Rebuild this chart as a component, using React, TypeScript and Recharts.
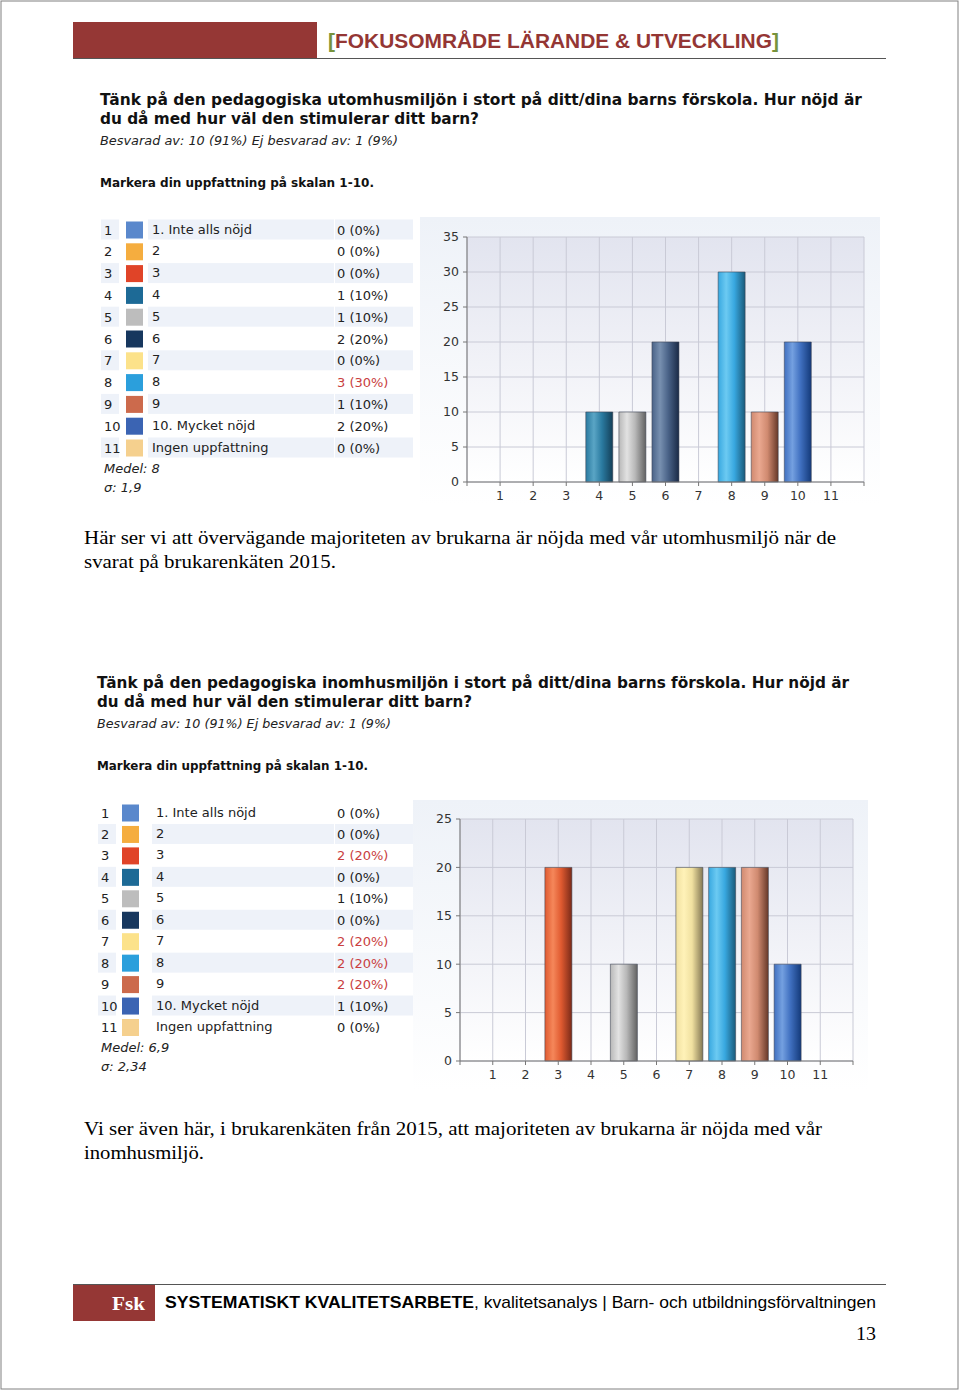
import React from 'react';
import { BarChart, Bar, XAxis, YAxis, CartesianGrid, Cell } from 'recharts';

// survey scale 1..11
const scalePoints = [1, 2, 3, 4, 5, 6, 7, 8, 9, 10, 11];
const scaleLabels = ['1. Inte alls nöjd', '2', '3', '4', '5', '6', '7', '8', '9', '10. Mycket nöjd', 'Ingen uppfattning'];

// utomhusmiljö
const outdoorCounts = [0, 0, 0, 1, 1, 2, 0, 3, 1, 2, 0];
const outdoorPercent = [0, 0, 0, 10, 10, 20, 0, 30, 10, 20, 0];
const outdoorYTicks = [0, 5, 10, 15, 20, 25, 30, 35];
const outdoorStats = ['Medel: 8', 'σ:  1,9'];

// inomhusmiljö
const indoorCounts = [0, 0, 2, 0, 1, 0, 2, 2, 2, 1, 0];
const indoorPercent = [0, 0, 20, 0, 10, 0, 20, 20, 20, 10, 0];
const indoorYTicks = [0, 5, 10, 15, 20, 25];
const indoorStats = ['Medel: 6,9', 'σ:  2,34'];

const xAxisTicks = [0, 1, 2, 3, 4, 5, 6, 7, 8, 9, 10, 11, 12];

const swatchColors = ['#5a88cc', '#f5ad3f', '#e04428', '#1d6a96', '#bdbdbd', '#17375e', '#fce28a', '#2b9fdc', '#cc6a4c', '#3b64b3', '#f5d08e'];
// base, highlight, dark edge for the cylinder look
const barShades = [
  ['#4f7fc8', '#80a8e0', '#203f78'],
  ['#f0a030', '#ffc870', '#805010'],
  ['#e05a30', '#f5875a', '#7a2a18'],
  ['#2a7aa0', '#5aa5c5', '#143f58'],
  ['#b8b8b8', '#e2e2e2', '#626262'],
  ['#4a6388', '#7890b0', '#1a2a46'],
  ['#f0e0a0', '#fff2b8', '#847854'],
  ['#38a8e0', '#6ccaf2', '#1a5a7a'],
  ['#d08a70', '#eaa890', '#663828'],
  ['#4070c0', '#74a0e0', '#143a7a'],
  ['#f0d090', '#fde8b8', '#8a7040'],
];

const SANS = '"DejaVu Sans", Verdana, sans-serif';
const ARIAL = '"Liberation Sans", Arial, sans-serif';
const SERIF = '"Liberation Serif", "Times New Roman", serif';

type ChartProps = {
  percent: number[];
  yTicks: number[];
  width: number;
  height: number;
  top: number;
  right: number;
  plotHeight: number;
  id: string;
};

const SurveyChart = ({ percent, yTicks, width, height, top, right, plotHeight, id }: ChartProps) => {
  const data = scalePoints.map((x, i) => ({ x, pct: percent[i] }));
  const tickStyle = { fontSize: 12.5, fill: '#333', fontFamily: SANS };
  return (
    <BarChart width={width} height={height} data={data} margin={{ top, right, bottom: 0, left: 0 }}>
      <defs>
        <linearGradient id={`${id}-bg`} x1="0" y1="0" x2="0" y2="1">
          <stop offset="0%" stopColor="#e2e4ef" />
          <stop offset="100%" stopColor="#ffffff" />
        </linearGradient>
        {barShades.map((s, i) => (
          <linearGradient key={i} id={`${id}-g${i}`} x1="0" y1="0" x2="1" y2="0">
            <stop offset="0%" stopColor={s[0]} />
            <stop offset="30%" stopColor={s[1]} />
            <stop offset="60%" stopColor={s[0]} />
            <stop offset="100%" stopColor={s[2]} />
          </linearGradient>
        ))}
      </defs>
      <CartesianGrid stroke="#c9cad6" fill={`url(#${id}-bg)`} />
      <XAxis
        type="number"
        dataKey="x"
        domain={[0, 12]}
        ticks={xAxisTicks}
        interval={0}
        tickFormatter={(v: number) => (scalePoints.includes(v) ? String(v) : '')}
        height={height - top - plotHeight}
        tick={tickStyle}
        tickSize={4}
        tickMargin={5}
        stroke="#777"
      />
      <YAxis
        type="number"
        domain={[0, yTicks[yTicks.length - 1]]}
        ticks={yTicks}
        interval={0}
        width={47}
        tick={tickStyle}
        tickSize={4}
        tickMargin={4}
        stroke="#777"
      />
      <Bar dataKey="pct" barSize={27} stroke="#3a4250" strokeOpacity={0.55} isAnimationActive={false}>
        {data.map((_, i) => (
          <Cell key={i} fill={`url(#${id}-g${i})`} />
        ))}
      </Bar>
    </BarChart>
  );
};

type TableProps = {
  counts: number[];
  percent: number[];
  stats: string[];
  top: number; // center of first row
  pitch: number;
  numX: number;
  swX: number;
  labelX: number;
  valueX: number;
  shadeOdd: boolean;
};

const SurveyTable = ({ counts, percent, stats, top, pitch, numX, swX, labelX, valueX, shadeOdd }: TableProps) => {
  const max = Math.max(...counts);
  const last = top + 10 * pitch;
  return (
    <g fontFamily={SANS} fontSize={13} fill="#222">
      {scaleLabels.map((label, i) => {
        const cy = top + i * pitch;
        const shaded = shadeOdd ? i % 2 === 0 : i % 2 === 1;
        return (
          <g key={i}>
            {shaded && (
              <g fill="#eef2f9">
                <rect x={numX - 3} y={cy - 10} width={18} height={20} />
                <rect x={labelX - 4} y={cy - 10} width={valueX - labelX + 1} height={20} />
                <rect x={valueX - 2} y={cy - 10} width={78} height={20} />
              </g>
            )}
            <text x={numX} y={cy + 5}>{scalePoints[i]}</text>
            <rect x={swX} y={cy - 8} width={17} height={17} fill={swatchColors[i]} />
            <text x={labelX} y={cy + 4}>{label}</text>
            <text x={valueX} y={cy + 5} fill={counts[i] === max ? '#c94040' : '#222'}>
              {`${counts[i]} (${percent[i]}%)`}
            </text>
          </g>
        );
      })}
      <text x={numX} y={last + 25} fontStyle="italic">{stats[0]}</text>
      <text x={numX} y={last + 44} fontStyle="italic">{stats[1]}</text>
    </g>
  );
};

const Fit = ({ x, y, w, size, children, ...rest }: any) => (
  <text x={x} y={y} fontSize={size} textLength={w} lengthAdjust="spacingAndGlyphs" {...rest}>
    {children}
  </text>
);

export default function App() {
  return (
    <div style={{ position: 'absolute', left: 0, top: 0, width: 960, height: 1393, background: '#fff' }}>
      <svg width={960} height={1393} style={{ position: 'absolute', left: 0, top: 0 }}>
        <rect x={1} y={1} width={957} height={1388} fill="none" stroke="#808080" />

        {/* header */}
        <rect x={73} y={22} width={244} height={36} fill="#953735" />
        <line x1={73} y1={58.5} x2={886} y2={58.5} stroke="#555" strokeWidth={1.2} />
        <Fit x={328} y={48} w={451} size={20} fontFamily={ARIAL} fontWeight="bold" fill="#943634">
          <tspan fill="#77933c">[</tspan>FOKUSOMRÅDE LÄRANDE &amp; UTVECKLING<tspan fill="#77933c">]</tspan>
        </Fit>

        {/* question 1 */}
        <g fontFamily={SANS} fill="#111">
          <Fit x={100} y={105} w={762} size={15} fontWeight="bold">
            Tänk på den pedagogiska utomhusmiljön i stort på ditt/dina barns förskola. Hur nöjd är
          </Fit>
          <Fit x={100} y={124} w={379} size={15} fontWeight="bold">
            du då med hur väl den stimulerar ditt barn?
          </Fit>
          <Fit x={100} y={145} w={298} size={12.5} fontStyle="italic" fill="#222">
            Besvarad av: 10 (91%) Ej besvarad av: 1 (9%)
          </Fit>
          <Fit x={100} y={187} w={274} size={12} fontWeight="bold">
            Markera din uppfattning på skalan 1-10.
          </Fit>
        </g>
        <SurveyTable counts={outdoorCounts} percent={outdoorPercent} stats={outdoorStats} top={229.5} pitch={21.8}
          numX={104} swX={126} labelX={152} valueX={337} shadeOdd={true} />

        <g fontFamily={SERIF} fill="#000">
          <Fit x={84} y={544} w={752} size={19.5}>
            Här ser vi att övervägande majoriteten av brukarna är nöjda med vår utomhusmiljö när de
          </Fit>
          <Fit x={84} y={568} w={252} size={19.5}>svarat på brukarenkäten 2015.</Fit>
        </g>

        {/* question 2 */}
        <g fontFamily={SANS} fill="#111">
          <Fit x={97} y={688} w={752} size={15} fontWeight="bold">
            Tänk på den pedagogiska inomhusmiljön i stort på ditt/dina barns förskola. Hur nöjd är
          </Fit>
          <Fit x={97} y={707} w={375} size={15} fontWeight="bold">
            du då med hur väl den stimulerar ditt barn?
          </Fit>
          <Fit x={97} y={728} w={294} size={12.5} fontStyle="italic" fill="#222">
            Besvarad av: 10 (91%) Ej besvarad av: 1 (9%)
          </Fit>
          <Fit x={97} y={770} w={271} size={12} fontWeight="bold">
            Markera din uppfattning på skalan 1-10.
          </Fit>
        </g>
        <SurveyTable counts={indoorCounts} percent={indoorPercent} stats={indoorStats} top={812.5} pitch={21.45}
          numX={101} swX={122} labelX={156} valueX={337} shadeOdd={false} />

        <g fontFamily={SERIF} fill="#000">
          <Fit x={84} y={1135} w={738} size={19.5}>
            Vi ser även här, i brukarenkäten från 2015, att majoriteten av brukarna är nöjda med vår
          </Fit>
          <Fit x={84} y={1159} w={120} size={19.5}>inomhusmiljö.</Fit>
        </g>

        {/* footer */}
        <line x1={73} y1={1284.5} x2={886} y2={1284.5} stroke="#555" strokeWidth={1.2} />
        <rect x={73} y={1285} width={82} height={36} fill="#953735" />
        <Fit x={112} y={1310} w={33} size={19} fontFamily={SERIF} fontWeight="bold" fill="#fff">Fsk</Fit>
        <Fit x={165} y={1308} w={309} size={17} fontFamily={ARIAL} fontWeight="bold" fill="#000">
          SYSTEMATISKT KVALITETSARBETE
        </Fit>
        <Fit x={474} y={1308} w={402} size={17} fontFamily={ARIAL} fill="#000">
          , kvalitetsanalys | Barn- och utbildningsförvaltningen
        </Fit>
        <Fit x={856} y={1340} w={20} size={19} fontFamily={SERIF} fill="#000">13</Fit>
      </svg>

      <div style={{ position: 'absolute', left: 420, top: 217, width: 460, height: 288, background: 'linear-gradient(#eef2f8, #ffffff)' }}>
        <SurveyChart percent={outdoorPercent} yTicks={outdoorYTicks} width={460} height={288} top={20} right={16} plotHeight={245} id="ute" />
      </div>
      <div style={{ position: 'absolute', left: 413, top: 800, width: 455, height: 290, background: 'linear-gradient(#eef2f8, #ffffff)' }}>
        <SurveyChart percent={indoorPercent} yTicks={indoorYTicks} width={455} height={290} top={19} right={15} plotHeight={242} id="inne" />
      </div>
    </div>
  );
}
